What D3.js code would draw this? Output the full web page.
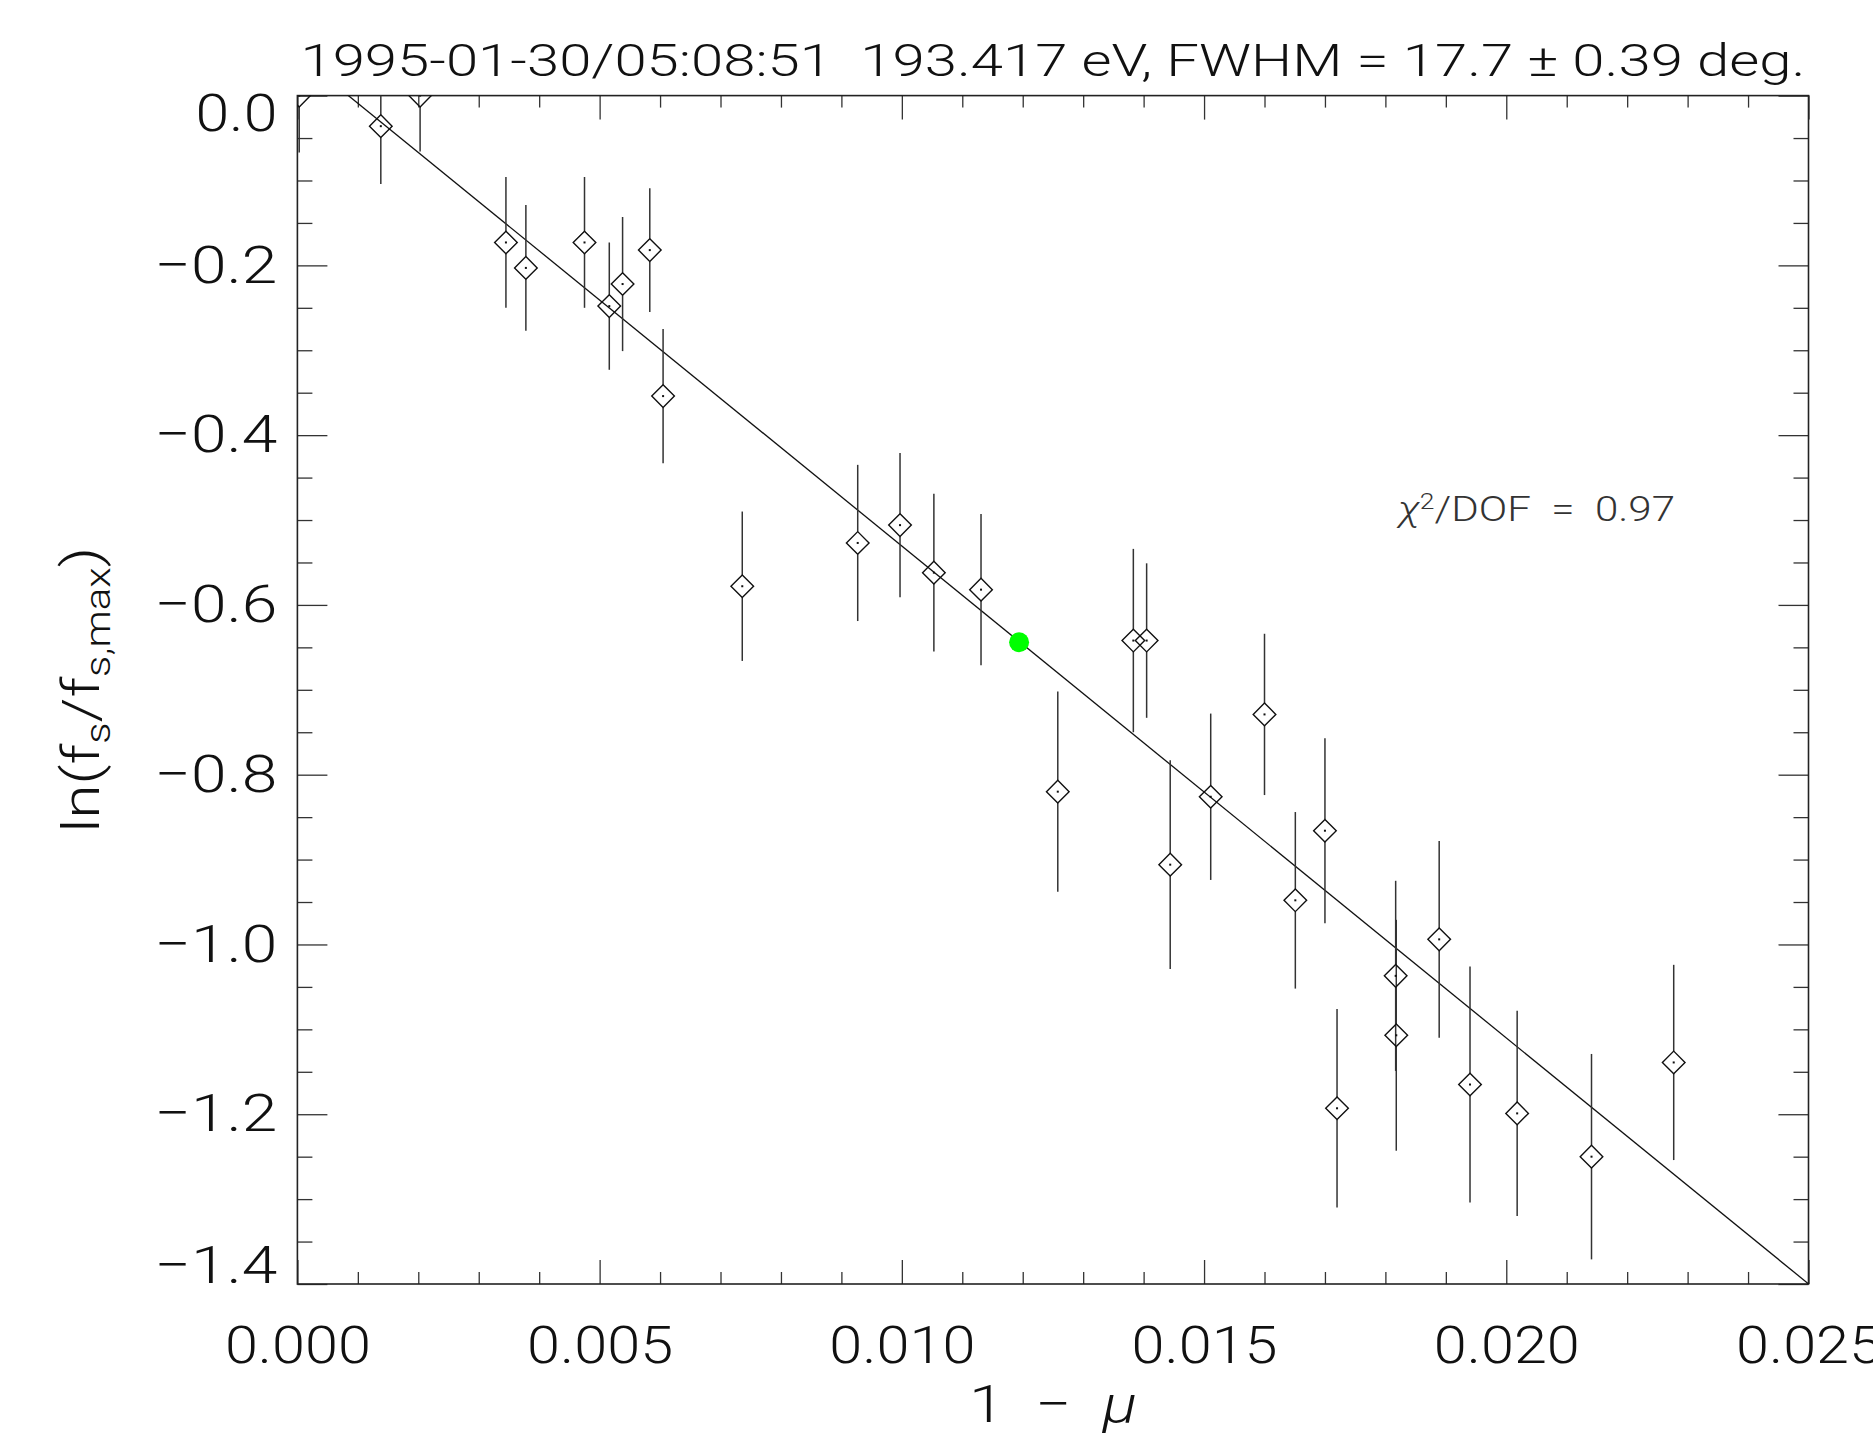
<!DOCTYPE html>
<html lang="en">
<head>
  <meta charset="utf-8">
  <title>ln(fs/fs,max) vs 1 - mu</title>
  <script src="https://cdnjs.cloudflare.com/ajax/libs/d3/7.8.5/d3.min.js"></script>
  <style>
    html, body { margin: 0; padding: 0; background: #fff; }
    svg { display: block; }
    text { font-family: "Roboto", "DejaVu Sans", sans-serif; font-weight: 300; fill: #111; white-space: pre; }
    .tick line { stroke: #333; stroke-width: 1.3; }
    .domain { display: none; }
  </style>
</head>
<body>
<svg id="chart" width="1873" height="1437"></svg>
<script>
// measured values: 1 - mu, ln(fs/fs,max) and the error on it
var xVals = [0.00003, 0.00138, 0.00203, 0.00345, 0.00378, 0.00475, 0.00516, 0.00538,
             0.00583, 0.00605, 0.00736, 0.00927, 0.00997, 0.01053, 0.01131, 0.01258,
             0.01383, 0.01405, 0.01444, 0.01511, 0.01600, 0.01651, 0.01700, 0.01720,
             0.01817, 0.01818, 0.01889, 0.01940, 0.02018, 0.02141, 0.02277];
var yVals = [0.000, -0.036, 0.000, -0.173, -0.203, -0.173, -0.248, -0.222,
             -0.182, -0.354, -0.578, -0.527, -0.506, -0.562, -0.582, -0.820,
             -0.642, -0.642, -0.906, -0.826, -0.729, -0.948, -0.866, -1.193,
             -1.037, -1.107, -0.994, -1.165, -1.199, -1.250, -1.139];
var yErrs = [0.067, 0.068, 0.066, 0.077, 0.074, 0.077, 0.075, 0.079,
             0.073, 0.079, 0.088, 0.092, 0.085, 0.093, 0.089, 0.118,
             0.108, 0.091, 0.123, 0.098, 0.095, 0.104, 0.109, 0.117,
             0.112, 0.136, 0.116, 0.139, 0.121, 0.121, 0.115];

// half maximum point (green) and the straight line fit
var halfX = [0.01194];
var halfY = [-0.644];
var fitIntercept = 0.0489;
var fitSlope = -57.95;

var xMajorTicks = [0, 0.005, 0.010, 0.015, 0.020, 0.025];
var yMajorTicks = [0, -0.2, -0.4, -0.6, -0.8, -1.0, -1.2, -1.4];

var titleText = "1995-01-30/05:08:51  193.417 eV, FWHM = 17.7 \u00b1 0.39 deg.";

var pL = 297.4, pR = 1808.5, pT = 95.6, pB = 1284;

var svg = d3.select("#chart");
var x = d3.scaleLinear().domain([0, 0.025]).range([pL, pR]);
var y = d3.scaleLinear().domain([0, -1.4]).range([pT, pB]);

var xMinor = d3.range(0, 0.02501, 0.001).filter(function (v) { return Math.round(v * 1000) % 5 != 0; });
var yMinor = d3.range(0, -1.4001, -0.05).filter(function (v) { return Math.round(v * 100) % 20 != 0; });

svg.append("defs").append("clipPath").attr("id", "plotclip")
  .append("rect").attr("x", pL).attr("y", pT)
  .attr("width", pR - pL).attr("height", pB - pT);

// ticks pointing inward on every side
function addAxis(axis, tx, ty) {
  return svg.append("g").attr("transform", "translate(" + tx + "," + ty + ")").call(axis);
}
var xFmt = d3.format(".3f"), yFmt = d3.format(".1f");

var gx = addAxis(d3.axisBottom(x).tickValues(xMajorTicks).tickSize(-24).tickSizeOuter(0)
  .tickPadding(42).tickFormat(xFmt), 0, pB);
gx.selectAll("text").style("font-size", "52px").attr("textLength", 146).attr("lengthAdjust", "spacingAndGlyphs");
addAxis(d3.axisBottom(x).tickValues(xMinor).tickSize(-12).tickSizeOuter(0).tickFormat(""), 0, pB);
addAxis(d3.axisTop(x).tickValues(xMajorTicks).tickSize(-24).tickSizeOuter(0).tickFormat(""), 0, pT);
addAxis(d3.axisTop(x).tickValues(xMinor).tickSize(-12).tickSizeOuter(0).tickFormat(""), 0, pT);

var gy = addAxis(d3.axisLeft(y).tickValues(yMajorTicks).tickSize(-30).tickSizeOuter(0)
  .tickPadding(20).tickFormat(yFmt), pL, 0);
// end labels are kept inside the frame's height
gy.selectAll("text").style("font-size", "52px")
  .attr("y", function (d) {
    var yc = Math.max(pT + 18.5, Math.min(pB - 18.5, y(d)));
    return yc - y(d);
  })
  .attr("textLength", function (d) { return d == 0 ? 82 : 123; }).attr("lengthAdjust", "spacingAndGlyphs");
addAxis(d3.axisLeft(y).tickValues(yMinor).tickSize(-15).tickSizeOuter(0).tickFormat(""), pL, 0);
addAxis(d3.axisRight(y).tickValues(yMajorTicks).tickSize(-30).tickSizeOuter(0).tickFormat(""), pR, 0);
addAxis(d3.axisRight(y).tickValues(yMinor).tickSize(-15).tickSizeOuter(0).tickFormat(""), pR, 0);

svg.append("rect").attr("x", pL).attr("y", pT)
  .attr("width", pR - pL).attr("height", pB - pT)
  .attr("fill", "none").attr("stroke", "#222").attr("stroke-width", 1.6);

var plot = svg.append("g").attr("clip-path", "url(#plotclip)");

// fit line
var fitLine = d3.line().x(function (d) { return x(d); })
  .y(function (d) { return y(fitIntercept + fitSlope * d); });
plot.append("path").datum([-0.001, 0.026]).attr("d", fitLine)
  .attr("fill", "none").attr("stroke", "#111").attr("stroke-width", 1.3);

var pts = xVals.map(function (v, i) { return { x: v, y: yVals[i], e: yErrs[i] }; });
var half = 11.3;

// error bars, drawn outside the symbol
plot.selectAll(".errup").data(pts).enter().append("line")
  .attr("x1", function (d) { return x(d.x); }).attr("x2", function (d) { return x(d.x); })
  .attr("y1", function (d) { return y(d.y + d.e); }).attr("y2", function (d) { return y(d.y) - half; })
  .attr("stroke", "#333").attr("stroke-width", 1.5);
plot.selectAll(".errdn").data(pts).enter().append("line")
  .attr("x1", function (d) { return x(d.x); }).attr("x2", function (d) { return x(d.x); })
  .attr("y1", function (d) { return y(d.y) + half; }).attr("y2", function (d) { return y(d.y - d.e); })
  .attr("stroke", "#333").attr("stroke-width", 1.5);

var diamond = d3.symbol().type(d3.symbolSquare).size(256);
plot.selectAll(".pt").data(pts).enter().append("path")
  .attr("d", diamond)
  .attr("transform", function (d) { return "translate(" + x(d.x) + "," + y(d.y) + ") rotate(45)"; })
  .attr("fill", "none").attr("stroke", "#111").attr("stroke-width", 1.4);
plot.selectAll(".dot").data(pts).enter().append("rect")
  .attr("x", function (d) { return x(d.x) - 1; }).attr("y", function (d) { return y(d.y) - 1; })
  .attr("width", 2).attr("height", 2).attr("fill", "#111");

plot.selectAll(".half").data(halfX).enter().append("circle")
  .attr("cx", function (d) { return x(d); }).attr("cy", function (d, i) { return y(halfY[i]); })
  .attr("r", 10).attr("fill", "#00ff00");

// texts
svg.append("text").attr("x", (pL + pR) / 2).attr("y", 76)
  .attr("text-anchor", "middle").style("font-size", "44px")
  .attr("textLength", 1505).attr("lengthAdjust", "spacingAndGlyphs")
  .text(titleText);

var xl = svg.append("text").attr("x", (pL + pR) / 2).attr("y", 1422)
  .attr("text-anchor", "middle").style("font-size", "52px")
  .attr("textLength", 168).attr("lengthAdjust", "spacingAndGlyphs");
xl.append("tspan").text("1  \u2212  ");
xl.append("tspan").style("font-style", "italic").text("\u03bc");

var yl = svg.append("text").attr("transform", "translate(99," + ((pT + pB) / 2) + ") rotate(-90)")
  .attr("text-anchor", "middle").style("font-size", "52px")
  .attr("textLength", 286).attr("lengthAdjust", "spacingAndGlyphs");
yl.append("tspan").text("ln(f");
yl.append("tspan").attr("baseline-shift", "-30%").style("font-size", "35px").text("s");
yl.append("tspan").text("/f");
yl.append("tspan").attr("baseline-shift", "-30%").style("font-size", "35px").text("s,max");
yl.append("tspan").text(")");

var chi = svg.append("text").attr("x", 1398).attr("y", 521).style("font-size", "35px")
  .style("fill", "#333").attr("textLength", 277).attr("lengthAdjust", "spacingAndGlyphs");
chi.append("tspan").style("font-style", "italic").text("\u03c7");
chi.append("tspan").attr("baseline-shift", "super").style("font-size", "22px").text("2");
chi.append("tspan").text("/DOF  =  0.97");
</script>
</body>
</html>
